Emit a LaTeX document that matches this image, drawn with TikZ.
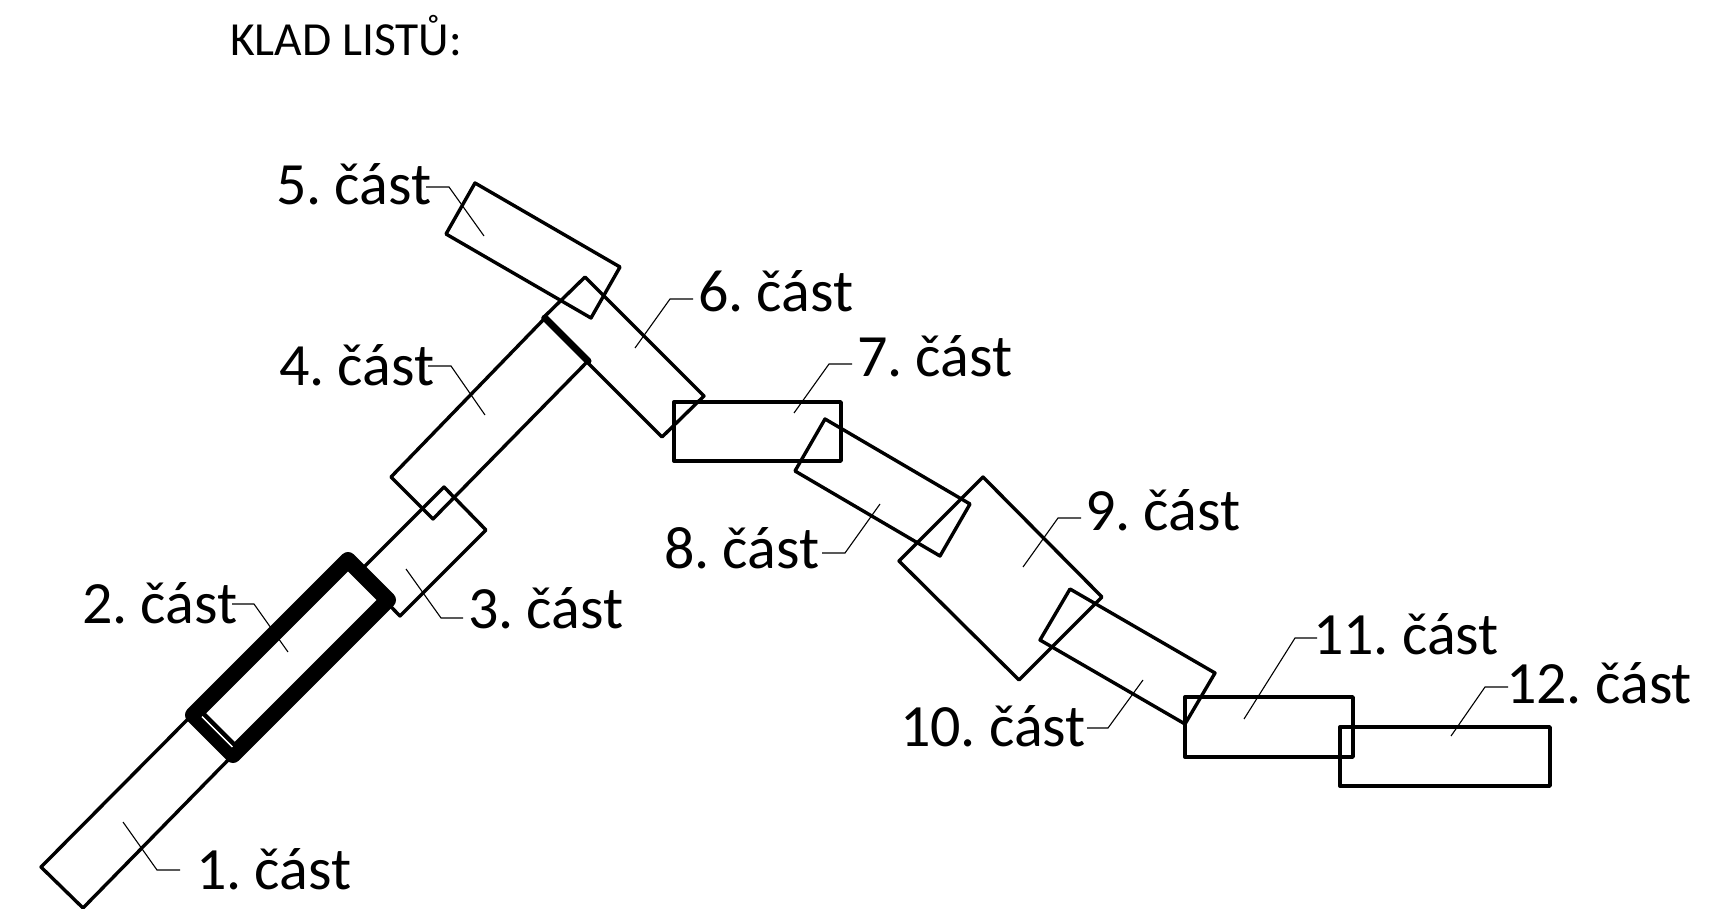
\documentclass[tikz,border=0pt]{standalone}
\usepackage{fontspec}
\setmainfont[WordSpace=0.65]{Carlito}
\tikzset{
  x=1pt,y=-1pt,
  part/.style={draw=black,line width=3.4pt,line join=round,line cap=round},
  lbl/.style={anchor=base west,inner sep=0pt,outer sep=0pt,font=\fontsize{60}{70}\selectfont},
  leader/.style={draw=black,line width=1.1pt},
}
\begin{document}
\begin{tikzpicture}
\useasboundingbox (0,0) rectangle (1715,909);
% parts
\draw[part] (190,717) -- (41,867) -- (83,908) -- (233,755);
\draw[part] (444,487) -- (486,530) -- (400,616) -- (358,573) -- cycle;
\draw[part,fill=white,line width=16pt] (193,715) -- (233,755) -- (388,600) -- (348,560) -- cycle;
\draw[white,line width=1.6pt] (202,716.5) -- (232.4,746.9);
\draw[black,line width=4.2pt] (202.5,712.5) -- (235.5,745.5);
\draw[part] (391,477) -- (545,318);
\draw[part] (391,477) -- (433,519) -- (588,361);
\draw[part,line width=7pt] (545,318) -- (588,361);
\draw[part] (475,183) -- (620,267) -- (591,318) -- (446,234) -- cycle;
\draw[part] (585,277) -- (704,396) -- (662,437) -- (543,318) -- cycle;
\draw[part] (674,402) rectangle (841,461);
\draw[part] (825,419) -- (970,504) -- (940,556) -- (795,471) -- cycle;
\draw[part] (983,477) -- (1102,597) -- (1019,680) -- (899,561) -- cycle;
\draw[part] (1070,589) -- (1215,673) -- (1185,724) -- (1040,640) -- cycle;
\draw[part] (1185,697) rectangle (1353,757);
\draw[part] (1340,727) rectangle (1550,786);
% labels
\node[lbl] (title) at (230,56) {\fontsize{47.5}{58}\selectfont KLAD\hspace{11pt}LISTŮ:};
\node[lbl] (l1) at (196,889) {1. část};
\node[lbl] (l2) at (82,623) {2. část};
\node[lbl] (l3) at (468,628) {3. část};
\node[lbl] (l4) at (279,385) {4. část};
\node[lbl] (l5) at (276,205) {5. část};
\node[lbl] (l6) at (698,311) {6. část};
\node[lbl] (l7) at (857,376) {7. část};
\node[lbl] (l8) at (664,568) {8. část};
\node[lbl] (l9) at (1085,530) {9. část};
\node[lbl] (l10) at (900,746) {10. část};
\node[lbl] (l11) at (1313,654) {11. část};
\node[lbl] (l12) at (1506,703) {12. část};
% leader ends
\coordinate (p1) at (123,822); \coordinate (k1) at (157,870); \coordinate (s1) at (180,870);
\coordinate (p2) at (288,652); \coordinate (k2) at (254,604); \coordinate (s2) at (232,604);
\coordinate (p3) at (406,569); \coordinate (k3) at (441,618); \coordinate (s3) at (463,618);
\coordinate (p4) at (485,415); \coordinate (k4) at (451,366); \coordinate (s4) at (428,366);
\coordinate (p5) at (484,236); \coordinate (k5) at (449,187); \coordinate (s5) at (426,187);
\coordinate (p6) at (635,348); \coordinate (k6) at (670,299); \coordinate (s6) at (693,299);
\coordinate (p7) at (794,413); \coordinate (k7) at (829,364); \coordinate (s7) at (852,364);
\coordinate (p8) at (880,504); \coordinate (k8) at (845,553); \coordinate (s8) at (822,553);
\coordinate (p9) at (1023,567); \coordinate (k9) at (1058,518); \coordinate (s9) at (1081,518);
\coordinate (p10) at (1143,680); \coordinate (k10) at (1108,728); \coordinate (s10) at (1087,728);
\coordinate (p11) at (1244,719); \coordinate (k11) at (1295,638); \coordinate (s11) at (1317,638);
\coordinate (p12) at (1451,736); \coordinate (k12) at (1485,687); \coordinate (s12) at (1508,687);
\foreach \i in {1,...,12}{\draw[leader] (s\i) -- (k\i) -- (p\i);}
\end{tikzpicture}
\end{document}
